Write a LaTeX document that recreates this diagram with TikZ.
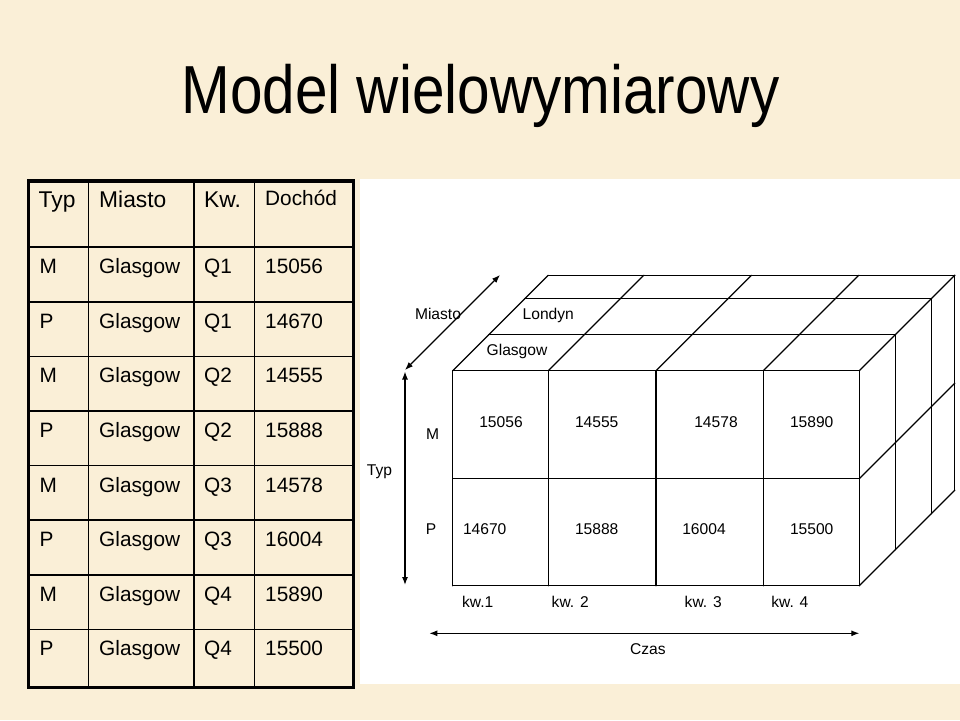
\documentclass[tikz,border=0pt]{standalone}
\usepackage{fontspec}
\setmainfont{Liberation Sans}
\newfontfamily\titlefont[FakeStretch=0.86]{Liberation Sans}
\usetikzlibrary{arrows.meta}
\definecolor{parchment}{RGB}{250,239,215}
\tikzset{
  slide/.style={x=1pt,y=-1pt,>={Latex[length=8pt,width=6pt]}},
  headtext/.style={anchor=base west,inner sep=0pt,font=\fontsize{22.8}{24}\selectfont},
  celltext/.style={anchor=base west,inner sep=0pt,font=\fontsize{20.8}{22}\selectfont},
  cubetext/.style={anchor=base,inner sep=0pt,font=\fontsize{15.6}{17}\selectfont},
  tabline/.style={line width=1.5pt},
  cubeline/.style={line width=1.25pt,line cap=round,line join=round},
  axis/.style={<->,line width=1.2pt},
}

\begin{document}
\begin{tikzpicture}[slide]
  % slide background and white panel
  \fill[parchment] (0,0) rectangle (960,720);
  \useasboundingbox (0,0) rectangle (960,720);
  \fill[white] (359.5,179) rectangle (960,684);

  \node[anchor=base,inner sep=0pt,font=\titlefont\fontsize{68}{72}\selectfont]
    (title) at (480.5,113) {Model wielowymiarowy};

  % table
  \foreach \x in {88.3,194,254.3}
    \draw[tabline] (\x,181) -- (\x,687.5);
  \foreach \y in {247,302,356.5,411,465.5,520,575,629.5}
    \draw[tabline] (28.3,\y) -- (353.3,\y);
  \draw[line width=3.5pt] (28.3,181) rectangle (353.3,687.5);

  \node[headtext] (htyp) at (38.5,207.7) {Typ};
  \node[headtext] (hmiasto) at (99,207.7) {Miasto};
  \node[headtext] (hkw) at (204,207.7) {Kw.};
  \node[celltext] (hdochod) at (265,205.7) {Dochód};
  \foreach \t/\m/\q/\v [count=\i] in {M/Glasgow/Q1/15056,P/Glasgow/Q1/14670,
      M/Glasgow/Q2/14555,P/Glasgow/Q2/15888,M/Glasgow/Q3/14578,
      P/Glasgow/Q3/16004,M/Glasgow/Q4/15890,P/Glasgow/Q4/15500}{
    \pgfmathsetmacro{\by}{273.8+(\i-1)*54.57}
    \node[celltext] (typ\i) at (39.3,\by) {\t};
    \node[celltext] (miasto\i) at (99,\by) {\m};
    \node[celltext] (kw\i) at (204,\by) {\q};
    \node[celltext] (dochod\i) at (265,\by) {\v};
  }

  % cube: front face
  \foreach \x in {452.7,548.3,656,763.3,859.3}
    \draw[cubeline] (\x,370.7) -- (\x,585.7);
  \foreach \y in {370.7,478.7,585.7}
    \draw[cubeline] (452.7,\y) -- (859.3,\y);
  % top face
  \foreach \d in {36,72,95.5}
    \draw[cubeline] (452.7+\d,370.7-\d) -- (859.3+\d,370.7-\d);
  \foreach \x in {452.7,548.3,656,763.3,859.3}
    \draw[cubeline] (\x,370.7) -- (\x+95.5,275.2);
  % right face
  \foreach \d in {36,72,95.5}
    \draw[cubeline] (859.3+\d,370.7-\d) -- (859.3+\d,585.7-\d);
  \foreach \y in {478.7,585.7}
    \draw[cubeline] (859.3,\y) -- (954.8,\y-95.5);

  % cube labels
  \node[cubetext] (miasto) at (438,319.3) {Miasto};
  \node[cubetext] (londyn) at (548.3,319.3) {Londyn};
  \node[cubetext] (glasgow) at (517,355.7) {Glasgow};
  \node[cubetext] (typ) at (379.5,475.3) {Typ};
  \node[cubetext] (m) at (432.7,439) {M};
  \node[cubetext] (p) at (431,534.3) {P};
  \node[cubetext] (vm1) at (501,427.3) {15056};
  \node[cubetext] (vm2) at (596.7,427.3) {14555};
  \node[cubetext] (vm3) at (716,427.3) {14578};
  \node[cubetext] (vm4) at (811.7,427.3) {15890};
  \node[cubetext] (vp1) at (484.7,534.3) {14670};
  \node[cubetext] (vp2) at (596.7,534.3) {15888};
  \node[cubetext] (vp3) at (704,534.3) {16004};
  \node[cubetext] (vp4) at (811.7,534.3) {15500};
  \node[cubetext] (q1) at (477.7,607.3) {kw.1};
  \node[cubetext] (q2) at (570.2,607.3) {kw. 2};
  \node[cubetext] (q3) at (703.2,607.3) {kw. 3};
  \node[cubetext] (q4) at (789.8,607.3) {kw. 4};
  \node[cubetext] (czas) at (647.8,654) {Czas};

  % axes
  \coordinate (typtop) at (405,371.5);
  \coordinate (typbot) at (405,585);
  \coordinate (miastolow) at (405,370);
  \coordinate (miastohigh) at (500,275);
  \coordinate (czasleft) at (429.3,633.3);
  \coordinate (czasright) at (859.3,633.3);
  \draw[axis] (typtop) -- (typbot);
  \draw[axis] (miastolow) -- (miastohigh);
  \draw[axis] (czasleft) -- (czasright);
\end{tikzpicture}
\end{document}
